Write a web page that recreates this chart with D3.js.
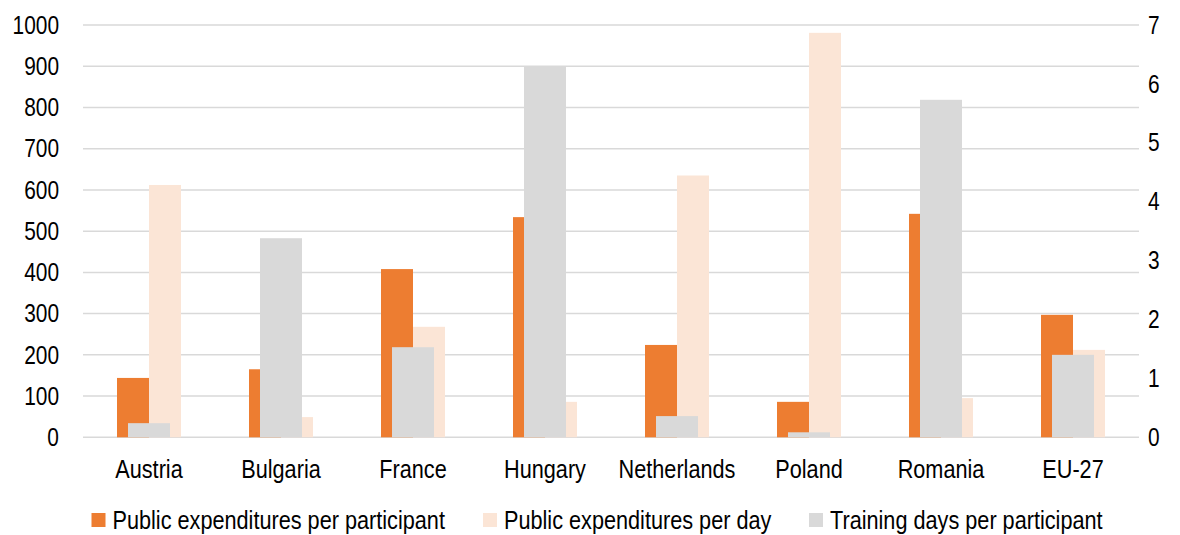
<!DOCTYPE html>
<html><head><meta charset="utf-8">
<script src="https://cdn.jsdelivr.net/npm/d3@7"></script>
<style>body{margin:0;background:#fff}svg{display:block;font-family:"Liberation Sans",Arial,sans-serif}</style>
</head><body><svg id="c" width="1180" height="535"></svg>
<script>
const categories = ["Austria","Bulgaria","France","Hungary","Netherlands","Poland","Romania","EU-27"];
const perParticipant = [144,165,408,534,224,86,542,297];
const perDay = [612,49,268,86,635,981,95,212];
const trainingDays = [0.24,3.38,1.53,6.29,0.36,0.085,5.73,1.40];
const leftTicks = [0,100,200,300,400,500,600,700,800,900,1000];
const rightTicks = [0,1,2,3,4,5,6,7];
const seriesNames = ["Public expenditures per participant","Public expenditures per day","Training days per participant"];
const colors = ["#ED7D31","#FBE5D6","#D9D9D9"];

const FF = '"Liberation Sans",Arial,sans-serif';
const FS = 25.5;
const SX_TXT = 0.85, SX_NUM = 0.82;
const svg = d3.select("#c");
const L=83, R=1139, T=25, B=437.3;
const x = d3.scaleBand().domain(categories).range([L,R]).paddingInner(0).paddingOuter(0);
const yL = d3.scaleLinear().domain([0,1000]).range([B,T]);
const yR = d3.scaleLinear().domain([0,7]).range([B,T]);

svg.append("g").selectAll("line").data(leftTicks).join("line")
  .attr("x1",L).attr("x2",R).attr("y1",d=>yL(d)).attr("y2",d=>yL(d))
  .attr("stroke","#D9D9D9").attr("stroke-width",1.5);

const bw = 32, gw = 42;
const cx = d => x(d) + x.bandwidth()/2;
const g = svg.append("g");
g.selectAll("rect.a").data(categories).join("rect").attr("class","a")
  .attr("x",d=>cx(d)-bw).attr("width",bw)
  .attr("y",(d,i)=>yL(perParticipant[i])).attr("height",(d,i)=>B-yL(perParticipant[i]))
  .attr("fill",colors[0]);
g.selectAll("rect.b").data(categories).join("rect").attr("class","b")
  .attr("x",d=>cx(d)).attr("width",bw)
  .attr("y",(d,i)=>yL(perDay[i])).attr("height",(d,i)=>B-yL(perDay[i]))
  .attr("fill",colors[1]);
g.selectAll("rect.c").data(categories).join("rect").attr("class","c")
  .attr("x",d=>cx(d)-gw/2).attr("width",gw)
  .attr("y",(d,i)=>yR(trainingDays[i])).attr("height",(d,i)=>B-yR(trainingDays[i]))
  .attr("fill",colors[2]);

const ax = svg.append("g").attr("transform",`translate(${L-24},0)`)
  .call(d3.axisLeft(yL).tickValues(leftTicks).tickSize(0).tickPadding(0).tickFormat(d3.format("d")));
const axr = svg.append("g").attr("transform",`translate(${R+9},0)`)
  .call(d3.axisRight(yR).tickValues(rightTicks).tickSize(0).tickPadding(0).tickFormat(d3.format("d")));
const axb = svg.append("g").attr("transform",`translate(0,${B+41})`)
  .call(d3.axisBottom(x).tickSize(0).tickPadding(0));
[ax,axr,axb].forEach(a=>{a.select(".domain").remove();
  a.selectAll("text").attr("font-size",FS).attr("fill","#000").attr("font-family",FF).attr("x",0);});
ax.selectAll("text").attr("transform",`scale(${SX_NUM},1)`);
axr.selectAll("text").attr("transform",`scale(${SX_NUM},1)`);
axb.selectAll("text").attr("dy",null).attr("y",0).attr("transform",`scale(${SX_TXT},1)`);

const legX = [91.5,483,809];
const lg = svg.append("g");
seriesNames.forEach((n,i)=>{
  lg.append("rect").attr("x",legX[i]).attr("y",513).attr("width",14).attr("height",14).attr("fill",colors[i]);
  lg.append("g").attr("transform",`translate(${legX[i]+21},529)`)
    .append("text").attr("transform",`scale(${SX_TXT},1)`)
    .attr("font-size",FS).attr("font-family",FF).attr("fill","#000").text(n);
});
</script></body></html>
